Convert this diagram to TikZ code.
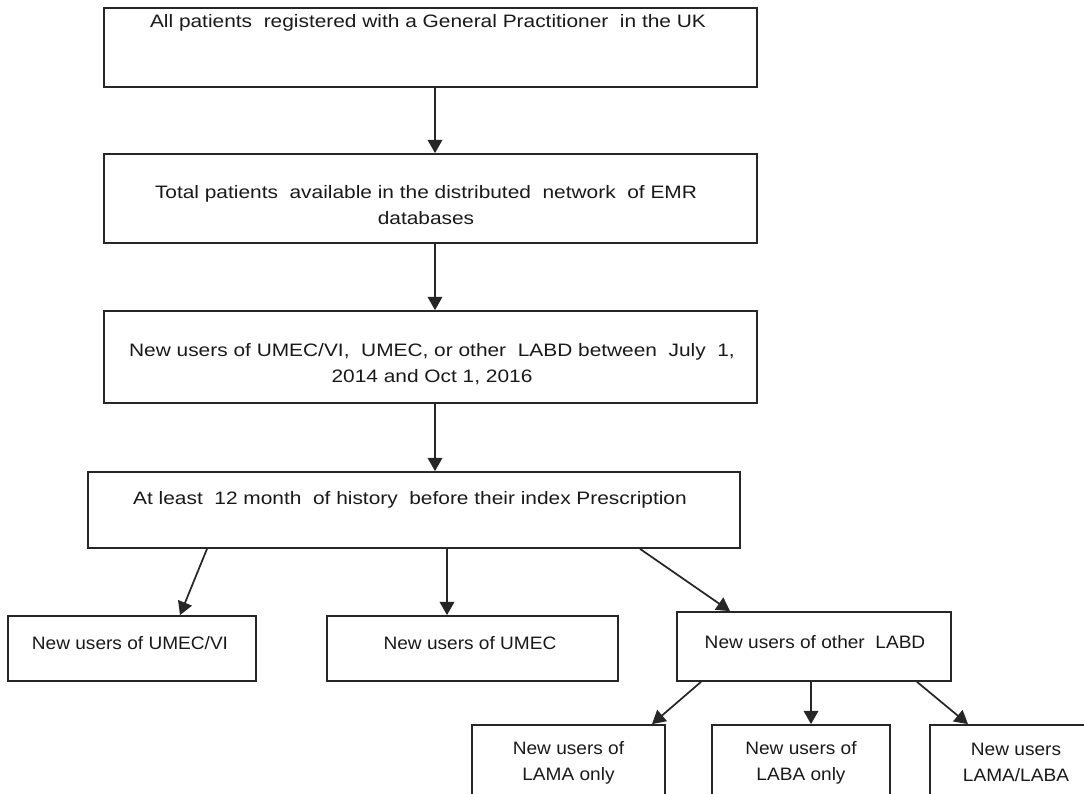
\documentclass[tikz,border=0pt]{standalone}
\usepackage{fontspec}
\setmainfont{Liberation Sans}[FakeStretch=1.06]
\newfontfamily\widefont{Liberation Sans}[FakeStretch=1.16]
\usetikzlibrary{arrows.meta,calc}
\tikzset{
  box/.style={draw=black!85, line width=1.3pt, rectangle, inner sep=0pt},
  txt/.style={font=\fontsize{13.5}{19.5}\selectfont, align=center, inner sep=0pt, text=black!90},
  ltxt/.style={font=\widefont\fontsize{13.5}{19.5}\selectfont, align=center, inner sep=0pt, text=black!90},
  arr/.style={draw=black!85, line width=1.3pt, -{Triangle[length=10pt,width=11pt]}}
}
\begin{document}
\begin{tikzpicture}[x=0.75pt,y=-0.75pt]
\useasboundingbox (0,0) rectangle (1084,793);
\clip (0,0) rectangle (1084,793);
% boxes
\node[box, minimum width=653*0.75pt, minimum height=79*0.75pt] (b1) at (430.5,47.5) {};
\node[box, minimum width=653*0.75pt, minimum height=89*0.75pt] (b2) at (430.5,198.5) {};
\node[box, minimum width=653*0.75pt, minimum height=92*0.75pt] (b3) at (430.5,357) {};
\node[box, minimum width=652*0.75pt, minimum height=76*0.75pt] (b4) at (414,510) {};
\node[box, minimum width=248*0.75pt, minimum height=65*0.75pt] (b5) at (132,648.5) {};
\node[box, minimum width=291*0.75pt, minimum height=65*0.75pt] (b6) at (472.5,648.5) {};
\node[box, minimum width=274*0.75pt, minimum height=69*0.75pt] (b7) at (814,646.5) {};
\node[box, minimum width=193*0.75pt, minimum height=110*0.75pt] (b8) at (568.5,780) {};
\node[box, minimum width=178*0.75pt, minimum height=110*0.75pt] (b9) at (801,780) {};
\node[box, minimum width=190*0.75pt, minimum height=110*0.75pt] (b10) at (1025,780) {};
% texts
\node[ltxt] (t1) at (428,23) {All patients\ \ registered with a General Practitioner\ \ in the UK};
\node[ltxt] (t2) at (426,205) {Total patients\ \ available in the distributed\ \ network\ \ of EMR\\databases};
\node[ltxt] (t3) at (432,364.5) {New users of UMEC/VI,\ \ UMEC, or other\ \ LABD between\ \ July\ \ 1,\\2014 and Oct 1, 2016};
\node[ltxt] (t4) at (410,500) {At least\ \ 12 month\ \ of history\ \ before their index Prescription};
\node[txt] (t5) at (130,643) {New users of UMEC/VI};
\node[txt] (t6) at (470,643) {New users of UMEC};
\node[txt] (t7) at (815,642) {New users of other\ \ LABD};
\node[txt] (t8) at (568.5,762.5) {New users of\\LAMA only};
\node[txt] (t9) at (801,762.5) {New users of\\LABA only};
\node[txt] (t10) at (1016,762.5) {New users\\LAMA/LABA};
% arrows
\draw[arr] ($(b1.south)+(4.5,0)$) -- ($(b2.north)+(4.5,0)$);
\draw[arr] ($(b2.south)+(4.5,0)$) -- ($(b3.north)+(4.5,0)$);
\draw[arr] ($(b3.south)+(4.5,0)$) -- ($(b4.north)+(21,0)$);
\draw[arr] ($(b4.south)+(-207,0)$) -- ($(b5.north)+(48,0)$);
\draw[arr] ($(b4.south)+(33,0)$) -- ($(b6.north)+(-25.5,0)$);
\draw[arr] ($(b4.south)+(226,0)$) -- ($(b7.north)+(-84,0)$);
\draw[arr] ($(b7.south)+(-113,0)$) -- ($(b8.north)+(83.5,0)$);
\draw[arr] ($(b7.south)+(-3,0)$) -- ($(b9.north)+(10,0)$);
\draw[arr] ($(b7.south)+(103,0)$) -- ($(b10.north)+(-57,0)$);
\end{tikzpicture}
\end{document}
